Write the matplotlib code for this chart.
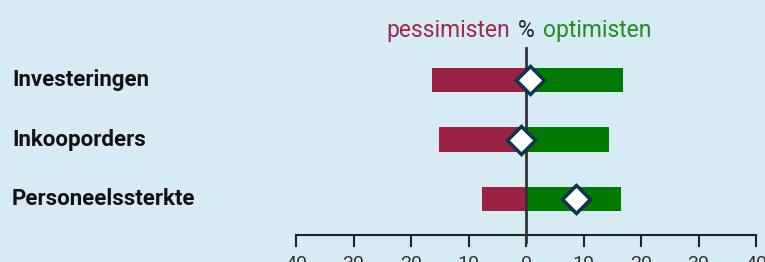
import matplotlib.pyplot as plt
import matplotlib.transforms as mtransforms

plt.rcParams["font.family"] = ["Roboto", "DejaVu Sans"]

categories = ["Investeringen", "Inkooporders", "Personeelssterkte"]
pessimists = [-16.3, -15.1, -7.7]
optimists = [16.9, 14.4, 16.5]
balance = [0.7, -0.9, 8.7]
ticks = [-40, -30, -20, -10, 0, 10, 20, 30, 40]
tick_labels = ["40", "30", "20", "10", "0", "10", "20", "30", "40"]

bg = "#d6ebf4"
red = "#9b2242"
green = "#007a00"

W, H = 765, 262
fig = plt.figure(figsize=(W / 100, H / 100), dpi=100, facecolor=bg)
# axes: x from -40 (296px) to 40 (756px), y from 48px to 235px (from top)
ax = fig.add_axes([296 / W, (H - 235) / H, 460 / W, 187 / H])
ax.set_facecolor("none")

pos = list(range(len(categories)))
ax.barh(pos, pessimists, height=0.41, color=red, zorder=2)
ax.barh(pos, optimists, height=0.41, color=green, zorder=2)
ax.axvline(0, ymin=-0.04, ymax=1, color="#333333", lw=2, zorder=3, clip_on=False)
ax.plot(balance, pos, ls="none", marker="D", ms=14, mfc="white",
        mec="#0d3550", mew=2.5, zorder=4)

ax.set_xlim(-40, 40)
ax.set_ylim(2.6, -0.533)

for s in ["top", "right", "left"]:
    ax.spines[s].set_visible(False)
ax.spines["bottom"].set_color("#222222")
ax.spines["bottom"].set_linewidth(1.5)
ax.set_yticks([])
ax.set_xticks(ticks)
ax.set_xticklabels(tick_labels)
ax.tick_params(axis="x", length=8.5, width=1.5, color="#222222",
               labelsize=14, labelcolor="#333333", pad=6)

# category labels at the left edge of the figure
trans = mtransforms.blended_transform_factory(fig.transFigure, ax.transData)
for p, name in zip(pos, categories):
    ax.text(12 / W, p, name, transform=trans, ha="left", va="center",
            fontsize=16, fontweight="bold", color="#111111")

# header
fig.text(510 / W, (H - 37) / H, "pessimisten", ha="right", va="baseline",
         fontsize=16.5, color="#a0284a")
fig.text(526 / W, (H - 37) / H, "%", ha="center", va="baseline",
         fontsize=16.5, color="#222222")
fig.text(543 / W, (H - 37) / H, "optimisten", ha="left", va="baseline",
         fontsize=16.5, color="#228b22")

fig.savefig("out.png", dpi=100, facecolor=bg)
